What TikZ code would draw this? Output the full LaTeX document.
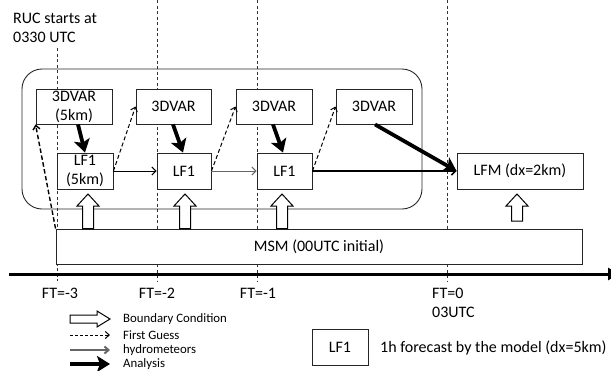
\documentclass[tikz,border=0pt]{standalone}
\usepackage{fontspec}
\setmainfont{Carlito}
\usetikzlibrary{arrows.meta}
\newcommand\blkup[2]{\draw[blk] (#1-5.5,#2) -- (#1-5.5,206) -- (#1-11,206) -- (#1,194) -- (#1+11,206) -- (#1+5.5,206) -- (#1+5.5,#2) -- cycle;}
\begin{document}
\begin{tikzpicture}[x=1pt,y=-1pt,
  box/.style={draw=black!85, line width=0.9pt, fill=white, inner sep=0pt, align=center, font=\fontsize{16}{19}\selectfont},
  vline/.style={draw=black!80, line width=0.7pt, dash pattern=on 3pt off 2.5pt},
  thinarr/.style={line width=1pt, -{Straight Barb[length=4pt,width=8pt]}},
  fgarr/.style={line width=1pt, dash pattern=on 4pt off 2.5pt, -{Straight Barb[length=4pt,width=7pt]}},
  bcarr/.style={line width=1.4pt, dash pattern=on 4.5pt off 2.5pt, -{Straight Barb[length=4pt,width=7pt]}},
  anaarr/.style={line width=3.8pt, -{Stealth[length=13pt,width=16pt,inset=3pt]}},
  lbl/.style={inner sep=0pt, font=\fontsize{16}{19}\selectfont},
  leg/.style={inner sep=0pt, anchor=west, font=\fontsize{12.8}{14}\selectfont},
  blk/.style={draw=black, line width=1pt, fill=white, line join=miter}
]
\useasboundingbox (0,0) rectangle (611,370);

% time lines
\coordinate (t3) at (57,48);  \coordinate (b3) at (57,281);
\coordinate (t2) at (157,0);  \coordinate (b2) at (157,281);
\coordinate (t1) at (257,0);  \coordinate (b1) at (257,281);
\coordinate (t0) at (447,0);  \coordinate (b0) at (447,281);
\draw[vline] (t3) -- (b3);
\draw[vline] (t2) -- (b2);
\draw[vline] (t1) -- (b1);
\draw[vline] (t0) -- (b0);

% axis
\coordinate (axl) at (9,274);
\coordinate (axr) at (619,274);
\draw[line width=3pt, -{Triangle[length=11pt,width=12pt]}] (axl) -- (axr);

% RUC text
\node[lbl, anchor=west, align=left] (ructxt) at (13,27.5) {RUC starts at\\0330 UTC};

% RUC rounded box
\node[draw=black!85, line width=0.9pt, rounded corners=20pt, minimum width=400pt, minimum height=140pt, inner sep=0pt] (rucbox) at (222,139) {};

% boxes
\node[box, minimum width=76pt, minimum height=35pt] (V1) at (74,106.5) {3DVAR\\(5km)};
\node[box, minimum width=75pt, minimum height=35pt] (V2) at (173.5,106.5) {3DVAR};
\node[box, minimum width=76pt, minimum height=35pt] (V3) at (274,106.5) {3DVAR};
\node[box, minimum width=76pt, minimum height=35pt] (V4) at (374,106.5) {3DVAR};
\node[box, minimum width=56pt, minimum height=36pt] (L1) at (85,171) {LF1\\(5km)};
\node[box, minimum width=54pt, minimum height=36pt] (L2) at (184,171) {LF1};
\node[box, minimum width=55pt, minimum height=36pt] (L3) at (284.5,171) {LF1};
\node[box, minimum width=126pt, minimum height=36pt] (LFM) at (520,171) {LFM (dx=2km)};
\node[box, minimum width=526pt, minimum height=35pt] (MSM) at (319,246.5) {MSM (00UTC initial)};

% first guess from MSM to first 3DVAR
\draw[bcarr] (MSM.north west) -- (V1.south west);

% analysis arrows
\draw[anaarr] ([xshift=4pt]V1.south) -- (L1.north);
\draw[anaarr] ([xshift=-0.5pt]V2.south) -- ([xshift=-1pt]L2.north);
\draw[anaarr] ([xshift=-1pt]V3.south) -- ([xshift=-1.5pt]L3.north);
\draw[anaarr] ([xshift=1pt]V4.south) -- (LFM.west);

% first guess arrows
\draw[fgarr] (L1.east) -- (V2.west);
\draw[fgarr] (L2.east) -- (V3.west);
\draw[fgarr] (L3.east) -- (V4.west);

% hydrometeors / forecast arrows
\draw[thinarr] (L1.east) -- (L2.west);
\draw[thinarr, draw=black!60] (L2.east) -- (L3.west);
\draw[thinarr, line width=1.5pt] (L3.east) -- (LFM.west);

% boundary condition block arrows
\blkup{88}{228.5}
\blkup{185}{228.5}
\blkup{282}{228.5}
\blkup{517}{221}

% FT labels
\node[lbl] (ft3) at (60,293) {FT=-3};
\node[lbl] (ft2) at (157,293) {FT=-2};
\node[lbl] (ft1) at (258,293) {FT=-1};
\node[lbl, anchor=west] (ft0) at (432,293) {FT=0};
\node[lbl, anchor=west] (utc) at (432,312) {03UTC};

% legend
\draw[blk] (70,315) -- (97,315) -- (97,311) -- (110,319) -- (97,327) -- (97,323) -- (70,323) -- cycle;
\node[leg] (lbc) at (123,319) {Boundary Condition};
\coordinate (fga) at (70,335); \coordinate (fgb) at (110,335);
\draw[line width=1pt, dash pattern=on 3pt off 2pt, -{Straight Barb[length=4pt,width=7pt]}] (fga) -- (fgb);
\node[leg] (lfg) at (123,335) {First Guess};
\coordinate (hya) at (70,350); \coordinate (hyb) at (110,350);
\draw[line width=2pt, draw=black!60, -{Straight Barb[length=4pt,width=7pt]}] (hya) -- (hyb);
\node[leg] (lhy) at (123,350) {hydrometeors};
\coordinate (ana) at (70,364); \coordinate (anb) at (110,364);
\draw[anaarr] (ana) -- (anb);
\node[leg] (lan) at (123,364) {Analysis};

\node[box, minimum width=56pt, minimum height=36pt] (lg) at (340,347) {LF1};
\node[lbl, anchor=west] (lgt) at (380,348) {1h forecast by the model (dx=5km)};
\end{tikzpicture}
\end{document}
